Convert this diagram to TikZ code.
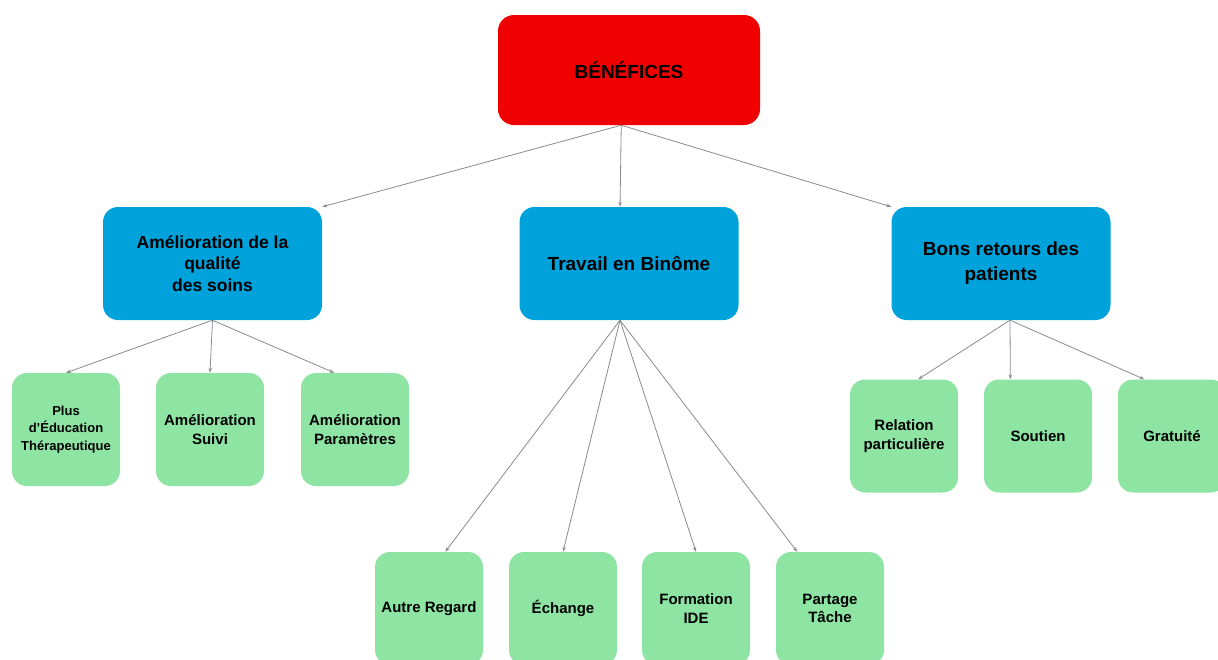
\documentclass[tikz,border=0pt]{standalone}
\usepackage{fontspec}
\setmainfont{Liberation Sans}
\usetikzlibrary{arrows.meta}
\definecolor{rootred}{HTML}{F00000}
\definecolor{themeblue}{HTML}{00A2DC}
\definecolor{leafgreen}{HTML}{8EE4A2}
\definecolor{linkgray}{HTML}{8A8A8A}
\tikzset{
  rootbox/.style={fill=rootred, rounded corners=16pt, minimum width=262pt, minimum height=110pt,
    inner sep=0pt, font=\fontsize{19}{23}\selectfont\bfseries},
  themebox/.style={fill=themeblue, rounded corners=15pt, minimum width=219pt, minimum height=113pt,
    inner sep=0pt, align=center, font=\fontsize{19}{25}\selectfont\bfseries},
  leafbox/.style={fill=leafgreen, rounded corners=15pt, minimum width=108pt, minimum height=113pt,
    inner sep=0pt, align=center, font=\fontsize{15}{18.5}\selectfont\bfseries},
  link/.style={draw=linkgray, line width=0.8pt, -{Stealth[length=5pt,width=3.5pt]}}
}
\begin{document}
\begin{tikzpicture}[x=1pt,y=-1pt]
  \clip (0,0) rectangle (1218,659);
  % top
  \node [rootbox] (root) at (629,70) {BÉNÉFICES};
  % themes
  \node [themebox, font=\fontsize{17.5}{21.5}\selectfont\bfseries] (qualite) at (212.5,263.5) {Amélioration de la\\qualité\\des soins};
  \node [themebox] (binome) at (629,263.5) {Travail en Binôme};
  \node [themebox] (retours) at (1001,263.5) {Bons retours des\\patients};
  % leaves
  \node [leafbox, font=\fontsize{13}{17.5}\selectfont\bfseries] (education) at (66,429.5) {Plus\\d'Éducation\\Thérapeutique};
  \node [leafbox] (suivi) at (210,429.5) {Amélioration\\Suivi};
  \node [leafbox] (parametres) at (355,429.5) {Amélioration\\Paramètres};
  \node [leafbox] (regard) at (429,608.5) {Autre Regard};
  \node [leafbox] (echange) at (563,608.5) {Échange};
  \node [leafbox] (formation) at (696,608.5) {Formation\\IDE};
  \node [leafbox] (partage) at (830,608.5) {Partage\\Tâche};
  \node [leafbox] (relation) at (904,436) {Relation\\particulière};
  \node [leafbox] (soutien) at (1038,436) {Soutien};
  \node [leafbox] (gratuite) at (1172,436) {Gratuité};
  % links
  \draw [link] (root.262) -- (qualite.north east);
  \draw [link] (root.262) -- (binome.99);
  \draw [link] (root.262) -- (retours.north west);
  \draw [link] (qualite.south) -- (education.north);
  \draw [link] (qualite.south) -- (suivi.north);
  \draw [link] (qualite.south) -- (parametres.110);
  \draw [link] (binome.261) -- (regard.74);
  \draw [link] (binome.261) -- (echange.north);
  \draw [link] (binome.261) -- (formation.north);
  \draw [link] (binome.261) -- (partage.120);
  \draw [link] (retours.279) -- (relation.76);
  \draw [link] (retours.279) -- (soutien.116);
  \draw [link] (retours.279) -- (gratuite.116);
\end{tikzpicture}
\end{document}
